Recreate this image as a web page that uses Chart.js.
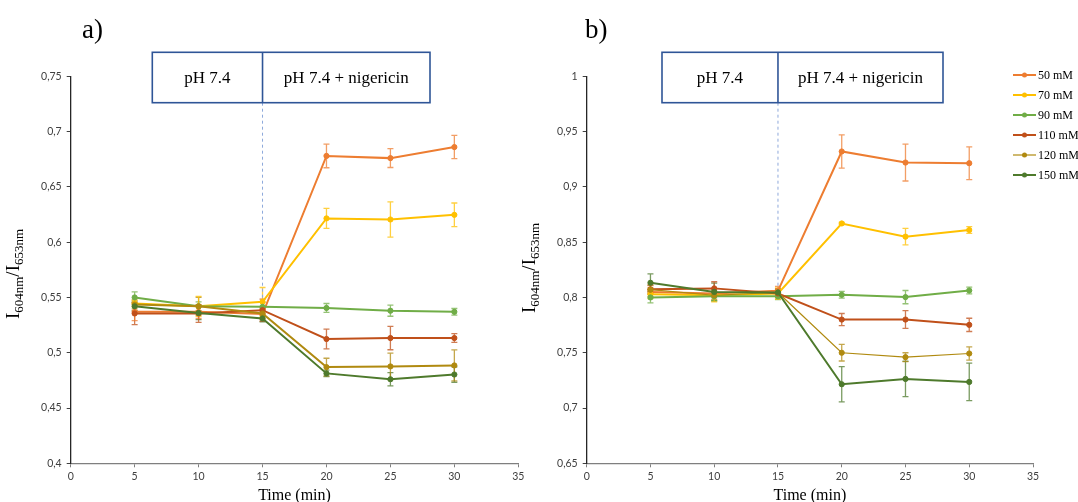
<!DOCTYPE html>
<html>
<head>
<meta charset="utf-8">
<script src="https://cdn.jsdelivr.net/npm/chart.js@4.4.1/dist/chart.umd.min.js"></script>
<style>
  html, body { margin: 0; padding: 0; background: #ffffff; width: 1078px; height: 502px; overflow: hidden; }
  .wrap { position: absolute; top: 0; height: 502px; }
  #wa { left: 0; width: 530px; }
  #wb { left: 520px; width: 558px; }
</style>
</head>
<body>
<div class="wrap" id="wa"><canvas id="ca"></canvas></div>
<div class="wrap" id="wb"><canvas id="cb"></canvas></div>
<script>
// ---- data ----
const times = [5, 10, 15, 20, 25, 30];
const seriesNames = ['50 mM', '70 mM', '90 mM', '110 mM', '120 mM', '150 mM'];
const seriesColors = ['#ED7D31', '#FFC000', '#70AD47', '#C0501A', '#B08A10', '#4E7A2C'];

// panel a)
const a50  = [0.537, 0.537, 0.535, 0.678, 0.676, 0.686];
const a70  = [0.5445, 0.542, 0.546, 0.6215, 0.6205, 0.6247];
const a90  = [0.550, 0.542, 0.5415, 0.5405, 0.538, 0.537];
const a110 = [0.5355, 0.5355, 0.5385, 0.5124, 0.5133, 0.5133];
const a120 = [0.5436, 0.542, 0.5355, 0.487, 0.4876, 0.4885];
const a150 = [0.542, 0.536, 0.531, 0.4813, 0.476, 0.4803];
const aErr50  = [0.008, 0.006, 0.005, 0.0107, 0.0085, 0.0105];
const aErr70  = [0.003, 0.009, 0.013, 0.009, 0.016, 0.0107];
const aErr90  = [0.005, 0.004, 0.004, 0.004, 0.005, 0.003];
const aErr110 = [0.010, 0.008, 0.010, 0.009, 0.0106, 0.004];
const aErr120 = [0.004, 0.008, 0.004, 0.008, 0.012, 0.014];
const aErr150 = [0.004, 0.006, 0.003, 0.003, 0.006, 0.007];

// panel b)
const b50  = [0.805, 0.8036, 0.806, 0.932, 0.922, 0.9214];
const b70  = [0.803, 0.802, 0.8036, 0.8669, 0.855, 0.861];
const b90  = [0.800, 0.801, 0.801, 0.8024, 0.8003, 0.8063];
const b110 = [0.8073, 0.8082, 0.8036, 0.780, 0.780, 0.7752];
const b120 = [0.807, 0.802, 0.8045, 0.750, 0.746, 0.7493];
const b150 = [0.8133, 0.805, 0.8045, 0.7215, 0.7263, 0.7236];
const bErr50  = [0.004, 0.004, 0.004, 0.015, 0.0167, 0.0148];
const bErr70  = [0.004, 0.006, 0.005, 0.001, 0.0075, 0.003];
const bErr90  = [0.005, 0.004, 0.003, 0.003, 0.006, 0.003];
const bErr110 = [0.004, 0.006, 0.004, 0.0055, 0.008, 0.006];
const bErr120 = [0.004, 0.004, 0.003, 0.0075, 0.004, 0.006];
const bErr150 = [0.008, 0.008, 0.003, 0.016, 0.016, 0.017];

const xTickLabels = ['0', '5', '10', '15', '20', '25', '30', '35'];
const aYTickLabels = ['0,4', '0,45', '0,5', '0,55', '0,6', '0,65', '0,7', '0,75'];
const bYTickLabels = ['0,65', '0,7', '0,75', '0,8', '0,85', '0,9', '0,95', '1'];

const boxLeftText = 'pH 7.4';
const boxRightText = 'pH 7.4 + nigericin';
const xTitle = 'Time (min)';

// ---- helpers ----
function makeDatasets(vals, errs, widths) {
  return vals.map((v, i) => ({
    label: seriesNames[i],
    data: times.map((t, k) => ({ x: t, y: v[k] })),
    errors: errs[i],
    borderColor: seriesColors[i],
    backgroundColor: seriesColors[i],
    pointBackgroundColor: seriesColors[i],
    pointBorderColor: seriesColors[i],
    borderWidth: widths[i],
    pointRadius: 2.6,
    pointBorderWidth: 1,
    pointHoverRadius: 2.6,
    tension: 0,
    order: vals.length - i
  }));
}

function hexA(hex, a) {
  const n = parseInt(hex.slice(1), 16);
  return `rgba(${(n >> 16) & 255},${(n >> 8) & 255},${n & 255},${a})`;
}

const errorBarPlugin = {
  id: 'errbars',
  beforeDatasetsDraw(chart) {
    const ctx = chart.ctx, xs = chart.scales.x, ys = chart.scales.y;
    ctx.save();
    for (let i = chart.data.datasets.length - 1; i >= 0; i--) {
      const ds = chart.data.datasets[i];
      ctx.strokeStyle = hexA(ds.borderColor, 0.75);
      ctx.lineWidth = 1.3;
      ds.data.forEach((p, k) => {
        const e = ds.errors[k];
        const x = xs.getPixelForValue(p.x);
        const y1 = ys.getPixelForValue(p.y + e);
        const y2 = ys.getPixelForValue(p.y - e);
        ctx.beginPath();
        ctx.moveTo(x, y1); ctx.lineTo(x, y2);
        ctx.moveTo(x - 3, y1); ctx.lineTo(x + 3, y1);
        ctx.moveTo(x - 3, y2); ctx.lineTo(x + 3, y2);
        ctx.stroke();
      });
    }
    ctx.restore();
  }
};

function drawYTitle(ctx, cx, cy) {
  const main = '19px "Liberation Serif"', sub = '13px "Liberation Serif"';
  const parts = [['I', main, 0], ['604nm', sub, 4], ['/I', main, 0], ['653nm', sub, 4]];
  ctx.save();
  ctx.translate(cx, cy);
  ctx.rotate(-Math.PI / 2);
  ctx.fillStyle = '#000';
  ctx.textBaseline = 'alphabetic';
  ctx.textAlign = 'left';
  let total = 0;
  parts.forEach(p => { ctx.font = p[1]; total += ctx.measureText(p[0]).width; });
  let x = -total / 2;
  parts.forEach(p => {
    ctx.font = p[1];
    ctx.fillText(p[0], x, 6 + p[2]);
    x += ctx.measureText(p[0]).width;
  });
  ctx.restore();
}

function decorPlugin(cfg) {
  return {
    id: 'decor',
    beforeDatasetsDraw(chart) {
      const ctx = chart.ctx, xs = chart.scales.x, ys = chart.scales.y;
      const x15 = xs.getPixelForValue(15);
      ctx.save();
      ctx.strokeStyle = '#8EA9DB';
      ctx.lineWidth = 1;
      ctx.setLineDash([3, 3]);
      ctx.beginPath();
      ctx.moveTo(x15, cfg.boxBottom);
      ctx.lineTo(x15, ys.getPixelForValue(cfg.dashEnd));
      ctx.stroke();
      ctx.restore();
    },
    afterDraw(chart) {
      const ctx = chart.ctx, xs = chart.scales.x, ys = chart.scales.y;
      const x15 = xs.getPixelForValue(15);
      ctx.save();
      // panel label
      ctx.fillStyle = '#000';
      ctx.font = '27px "Liberation Serif"';
      ctx.textAlign = 'left';
      ctx.textBaseline = 'alphabetic';
      ctx.fillText(cfg.panel, cfg.panelX, 38);
      // box
      ctx.strokeStyle = '#2F5597';
      ctx.lineWidth = 1.6;
      ctx.strokeRect(cfg.boxL, cfg.boxTop, cfg.boxR - cfg.boxL, cfg.boxBottom - cfg.boxTop);
      ctx.beginPath();
      ctx.moveTo(x15, cfg.boxTop); ctx.lineTo(x15, cfg.boxBottom);
      ctx.stroke();
      ctx.font = '17px "Liberation Serif"';
      ctx.textAlign = 'center';
      ctx.textBaseline = 'middle';
      const ym = (cfg.boxTop + cfg.boxBottom) / 2 + 1;
      ctx.fillText(boxLeftText, (cfg.boxL + x15) / 2, ym);
      ctx.fillText(boxRightText, (x15 + cfg.boxR) / 2, ym);
      // x title
      ctx.font = '16px "Liberation Serif"';
      ctx.fillText(xTitle, (xs.left + xs.right) / 2 - 0, 496);
      ctx.restore();
      // y title
      drawYTitle(ctx, cfg.yTitleX, cfg.yTitleY);
      // legend
      if (cfg.legend) {
        ctx.save();
        ctx.font = '12px "Liberation Serif"';
        ctx.textAlign = 'left';
        ctx.textBaseline = 'middle';
        chart.data.datasets.forEach((ds, i) => {
          const y = cfg.legY + i * 20;
          ctx.strokeStyle = ds.borderColor;
          ctx.lineWidth = ds.borderWidth;
          ctx.beginPath();
          ctx.moveTo(cfg.legX, y); ctx.lineTo(cfg.legX + 23, y);
          ctx.stroke();
          ctx.fillStyle = ds.borderColor;
          ctx.beginPath();
          ctx.arc(cfg.legX + 11.5, y, 2.5, 0, Math.PI * 2);
          ctx.fill();
          ctx.fillStyle = '#000';
          ctx.fillText(ds.label, cfg.legX + 25, y + 1);
        });
        ctx.restore();
      }
    }
  };
}

function makeChart(canvasId, datasets, yMin, yMax, yLabels, yAxisWidth, padRight, cfg) {
  return new Chart(document.getElementById(canvasId), {
    type: 'line',
    data: { datasets },
    options: {
      responsive: true,
      maintainAspectRatio: false,
      animation: false,
      events: [],
      layout: { padding: { top: 76.3, right: padRight, left: 0, bottom: 0 } },
      plugins: { legend: { display: false }, tooltip: { enabled: false }, title: { display: false } },
      scales: {
        x: {
          type: 'linear', min: 0, max: 35,
          ticks: {
            stepSize: 5, autoSkip: false, maxRotation: 0, padding: 3,
            color: '#404040', font: { family: 'Lato', size: 10.5 },
            callback: (v, idx) => xTickLabels[idx]
          },
          grid: { display: true, drawOnChartArea: false, drawTicks: true, tickLength: 4, color: '#7f7f7f', lineWidth: 1 },
          border: { display: true, color: '#7f7f7f', width: 1.3 },
          afterFit: s => { s.height = 38.7; }
        },
        y: {
          type: 'linear', min: yMin, max: yMax,
          ticks: {
            stepSize: 0.05, autoSkip: false, padding: 5,
            color: '#404040', font: { family: 'Lato', size: 10.5 },
            callback: (v, idx) => yLabels[idx]
          },
          grid: { display: true, drawOnChartArea: false, drawTicks: true, tickLength: 4, color: '#404040', lineWidth: 1 },
          border: { display: true, color: '#262626', width: 1.3 },
          afterFit: s => { s.width = yAxisWidth; }
        }
      }
    },
    plugins: [errorBarPlugin, decorPlugin(cfg)]
  });
}

const dsA = makeDatasets([a50, a70, a90, a110, a120, a150],
  [aErr50, aErr70, aErr90, aErr110, aErr120, aErr150], [2, 2, 2, 2, 2, 2]);
const dsB = makeDatasets([b50, b70, b90, b110, b120, b150],
  [bErr50, bErr70, bErr90, bErr110, bErr120, bErr150], [2, 2, 2, 2, 1.2, 2]);

makeChart('ca', dsA, 0.4, 0.75, aYTickLabels, 70.7, 530 - 518.3, {
  panel: 'a)', panelX: 82, boxL: 152.3, boxR: 430, boxTop: 52.3, boxBottom: 102.7,
  dashEnd: 0.545, yTitleX: 13, yTitleY: 274, legend: false
});
makeChart('cb', dsB, 0.65, 1.0, bYTickLabels, 66.7, 558 - 513, {
  panel: 'b)', panelX: 585 - 520, boxL: 662 - 520, boxR: 943 - 520, boxTop: 52.3, boxBottom: 102.7,
  dashEnd: 0.805, yTitleX: 535 - 520 - 6, yTitleY: 268, legend: true, legX: 1013 - 520, legY: 75
});
</script>
</body>
</html>
